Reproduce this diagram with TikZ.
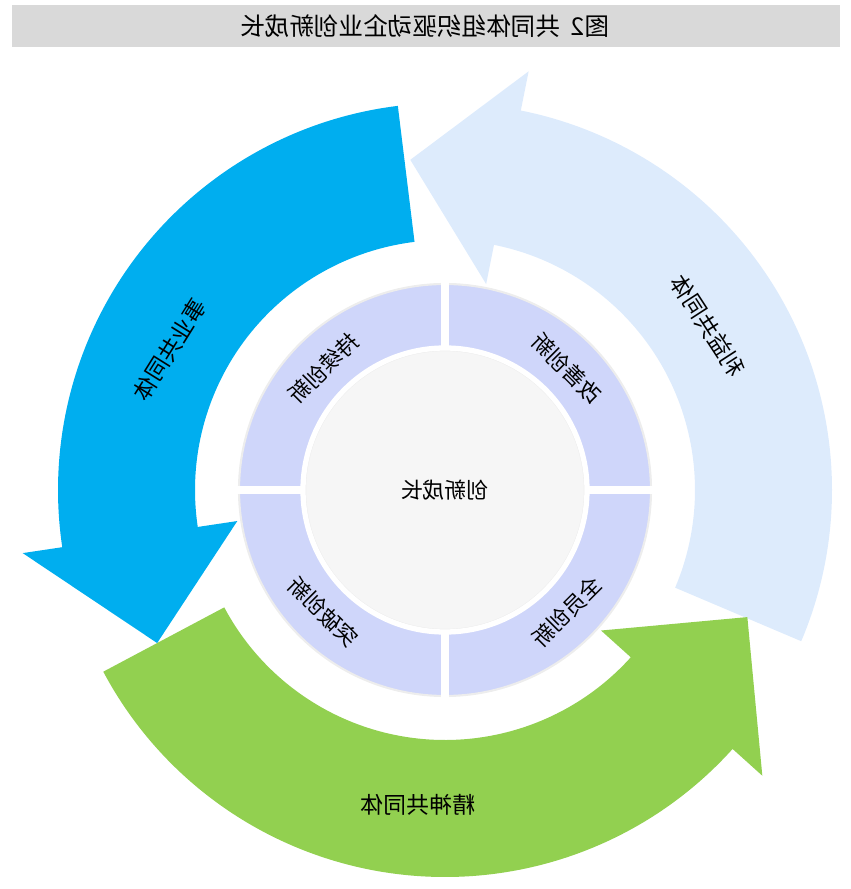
\documentclass[tikz,border=0pt]{standalone}
\usepackage{fontspec}
\setmainfont{Noto Sans CJK SC}
\usepackage{graphicx}
\usetikzlibrary{calc}
\definecolor{bandblue}{HTML}{00AEEF}
\definecolor{bandlight}{HTML}{DDEBFC}
\definecolor{bandgreen}{HTML}{92D050}
\definecolor{ringfill}{HTML}{CFD6FA}
\definecolor{corefill}{HTML}{F6F6F6}
\definecolor{titlegray}{HTML}{D9D9D9}
\newcommand\mirror[1]{\scalebox{-1}[1]{#1}}
% curved band arrow: colour, start angle, head angle, tip angle, tip radius
\newcommand\arcarrow[5]{%
\fill[#1] (#2:387) arc(#2:#3:387) -- (#3:427) -- (#4:#5) -- (#3:210) -- (#3:250) arc(#3:#2:250) -- cycle;}

\begin{document}
\begin{tikzpicture}[x=0.02cm,y=0.02cm]
\tikzset{lbl/.style={font=\fontsize{12.5pt}{14pt}\selectfont,text=black}}

\useasboundingbox (-445,-399) rectangle (405,490);

% title bar
\fill[titlegray] (-433,443) rectangle (395,485);
\node[font=\fontsize{14pt}{16pt}\selectfont] (title) at (-20,464) {\mirror{图2\ \ 共同体组织驱动企业创新成长}};

% three arrows
\arcarrow{bandlight}{-23}{78.7}{96}{332}
\arcarrow{bandgreen}{208}{318}{337.2}{328}
\arcarrow{bandblue}{97}{188.5}{208}{326}

% ring
\fill[ringfill,draw=black!7,line width=1.2] (0,0) circle (206);
\draw[white,line width=5] (-208,0)--(208,0);
\draw[white,line width=5] (0,-208)--(0,208);
\fill[corefill,draw=black!7,line width=1.2] (0,0) circle (140);
\draw[white,line width=3] (0,0) circle (142);

\node[lbl] (core) at (0,0) {\mirror{创新成长}};
\node[lbl,rotate=45] (q1) at (135:172) {\mirror{持续创新}};
\node[lbl,rotate=-45] (q2) at (45:172) {\mirror{改善创新}};
\node[lbl,rotate=45] (q3) at (-45:172) {\mirror{全员创新}};
\node[lbl,rotate=-45] (q4) at (-135:172) {\mirror{突破创新}};

\node[lbl,font=\fontsize{13pt}{15pt}\selectfont,rotate=58] (career) at (153:309) {\mirror{事业共同体}};
\node[lbl,font=\fontsize{13pt}{15pt}\selectfont,rotate=-57] (interest) at (32:310) {\mirror{利益共同体}};
\node[lbl,font=\fontsize{13pt}{15pt}\selectfont] (spirit) at (-27,-315) {\mirror{精神共同体}};

\end{tikzpicture}
\end{document}
